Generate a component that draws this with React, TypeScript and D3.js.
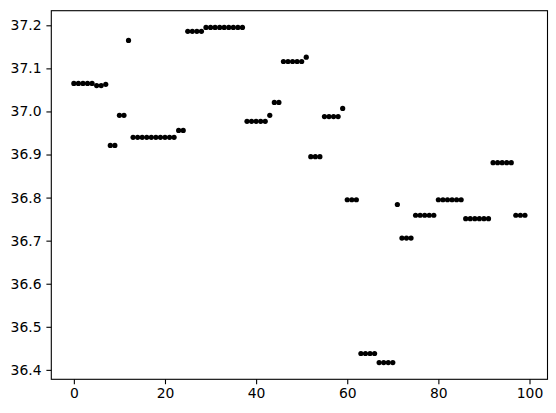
import React, { useEffect, useRef } from "react";
import * as d3 from "d3";

// Readings grouped in runs: each run is [start index, value, count]
const runStarts = [0, 5, 7, 8, 10, 12, 13, 23, 25, 29, 38, 43, 44, 46, 51, 52, 55, 59, 60, 63, 67, 71, 72, 75, 80, 86, 92, 97];
const runValues = [
  37.065, 37.06, 37.063, 36.921, 36.991, 37.165, 36.94, 36.956, 37.186, 37.195,
  36.977, 36.991, 37.021, 37.116, 37.126, 36.895, 36.988, 37.007, 36.795, 36.438,
  36.417, 36.784, 36.706, 36.759, 36.795, 36.751, 36.881, 36.759,
];
const runLengths = [5, 2, 1, 2, 2, 1, 10, 2, 4, 9, 5, 1, 2, 5, 1, 3, 4, 1, 3, 4, 4, 1, 3, 5, 6, 6, 5, 3];

const xTicks = [0, 20, 40, 60, 80, 100];
const yTicks = [36.4, 36.5, 36.6, 36.7, 36.8, 36.9, 37.0, 37.1, 37.2];

type Point = { x: number; y: number };

const App: React.FC = () => {
  const chartRef = useRef<SVGSVGElement>(null);

  useEffect(() => {
    const data: Point[] = [];
    runStarts.forEach((s, i) => {
      for (let k = 0; k < runLengths[i]; k++) data.push({ x: s + k, y: runValues[i] });
    });

    const width = 556;
    const height = 413;
    const margin = { top: 10.7, right: 8.5, bottom: 33.7, left: 51.3 };

    const svg = d3.select(chartRef.current);
    svg.selectAll("*").remove();

    // matplotlib-style 5% padding around the data
    const [x0, x1] = d3.extent(data, (d) => d.x) as [number, number];
    const [y0, y1] = d3.extent(data, (d) => d.y) as [number, number];
    const px = (x1 - x0) * 0.05;
    const py = (y1 - y0) * 0.05;

    const xScale = d3
      .scaleLinear()
      .domain([x0 - px, x1 + px])
      .range([margin.left, width - margin.right]);

    const yScale = d3
      .scaleLinear()
      .domain([y0 - py, y1 + py])
      .range([height - margin.bottom, margin.top]);

    const font = "DejaVu Sans, sans-serif";

    // Points
    svg
      .append("g")
      .selectAll("circle")
      .data(data)
      .join("circle")
      .attr("cx", (d) => xScale(d.x))
      .attr("cy", (d) => yScale(d.y))
      .attr("r", 2.6)
      .attr("fill", "#000");

    // Axes
    const xAxis = svg
      .append("g")
      .attr("transform", `translate(0,${height - margin.bottom})`)
      .call(
        d3
          .axisBottom(xScale)
          .tickValues(xTicks)
          .tickSize(4.9)
          .tickPadding(4.2)
          .tickSizeOuter(0)
          .tickFormat(d3.format("d"))
      );

    const yAxis = svg
      .append("g")
      .attr("transform", `translate(${margin.left},0)`)
      .call(
        d3
          .axisLeft(yScale)
          .tickValues(yTicks)
          .tickSize(4.9)
          .tickPadding(4.9)
          .tickSizeOuter(0)
          .tickFormat(d3.format(".1f"))
      );

    [xAxis, yAxis].forEach((ax) => {
      ax.select(".domain").remove();
      ax.selectAll(".tick line").attr("stroke", "#000").attr("stroke-width", 1.1);
      ax.selectAll(".tick text")
        .attr("fill", "#000")
        .attr("font-family", font)
        .attr("font-size", 13.9);
    });

    // Frame
    svg
      .append("rect")
      .attr("x", margin.left)
      .attr("y", margin.top)
      .attr("width", width - margin.left - margin.right)
      .attr("height", height - margin.top - margin.bottom)
      .attr("fill", "none")
      .attr("stroke", "#000")
      .attr("stroke-width", 1.1);
  }, []);

  return (
    <svg
      ref={chartRef}
      width={556}
      height={413}
      style={{ position: "absolute", left: 0, top: 0, background: "#fff" }}
    />
  );
};

export default App;
